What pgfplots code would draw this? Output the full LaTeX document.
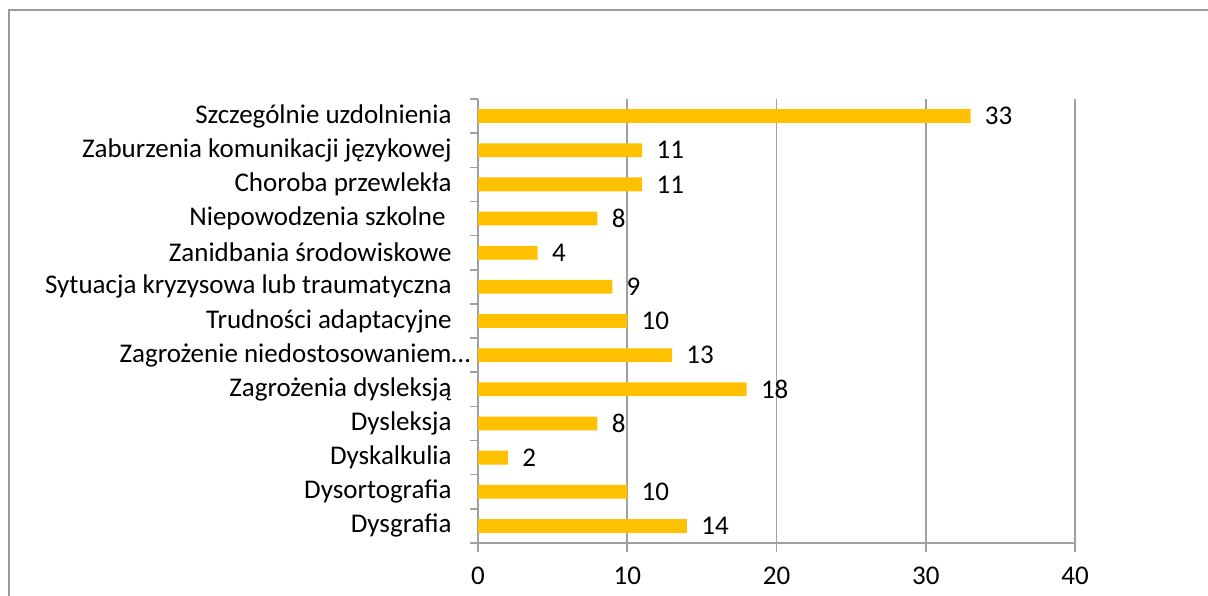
\documentclass[border=0pt]{standalone}
\usepackage{fontspec}
\setmainfont{Carlito}
\usepackage{pgfplots}
\pgfplotsset{compat=1.18}
\definecolor{barcol}{HTML}{FFC000}
\definecolor{axgray}{HTML}{A0A0A0}
\definecolor{framegray}{HTML}{9A9A9A}
\begin{document}%
\begin{tikzpicture}[font=\fontsize{13.5}{16}\selectfont]
\useasboundingbox (0,0) rectangle (604pt,297.5pt);
\draw[framegray, line width=1.1pt] (4.5pt,-5pt) -- (4.5pt,293.05pt);
\draw[framegray, line width=1.1pt] (3.95pt,292.5pt) -- (612pt,292.5pt);
\begin{axis}[
  at={(239pt,26pt)}, anchor=south west,
  scale only axis, width=298.5pt, height=222pt,
  xbar, bar width=6.9pt,
  xmin=0, xmax=40, ymin=-0.5, ymax=12.5,
  axis x line*=bottom, axis y line*=left,
  axis line style={axgray, line width=0.8pt, -},
  xtick={0,10,20,30,40},
  xmajorgrids, grid style={axgray, line width=0.8pt},
  tick align=outside,
  x tick style={axgray, line width=0.8pt},
  major tick length=4.5pt,
  xticklabel style={anchor=north, inner sep=0pt, yshift=-7.5pt},
  /pgf/number format/assume math mode=true,
  ytick={0,...,12},
  y tick style={draw=none},
  yticklabels={Dysgrafia, Dysortografia, Dyskalkulia, Dysleksja, Zagrożenia dysleksją, Zagrożenie niedostosowaniem\rlap{…}, Trudności adaptacyjne, Sytuacja kryzysowa lub traumatyczna, Zanidbania środowiskowe, Niepowodzenia szkolne\hbox to 3pt{}, Choroba przewlekła, Zaburzenia komunikacji językowej, Szczególnie uzdolnienia},
  yticklabel style={anchor=east, inner sep=0pt, xshift=-8.5pt},
  extra y ticks={-0.5,0.5,...,12.5},
  extra y tick labels={},
  extra y tick style={y tick style={draw=axgray, line width=0.8pt}, major tick length=4pt},
  nodes near coords,
  every node near coord/.append style={anchor=west, inner sep=0pt, xshift=7pt, black},
  tick label style={black},
]
\addplot[fill=barcol, draw=none] coordinates {
  (14,0) (10,1) (2,2) (8,3) (18,4) (13,5) (10,6) (9,7) (4,8) (8,9) (11,10) (11,11) (33,12)
};
\end{axis}
\end{tikzpicture}%
\end{document}
